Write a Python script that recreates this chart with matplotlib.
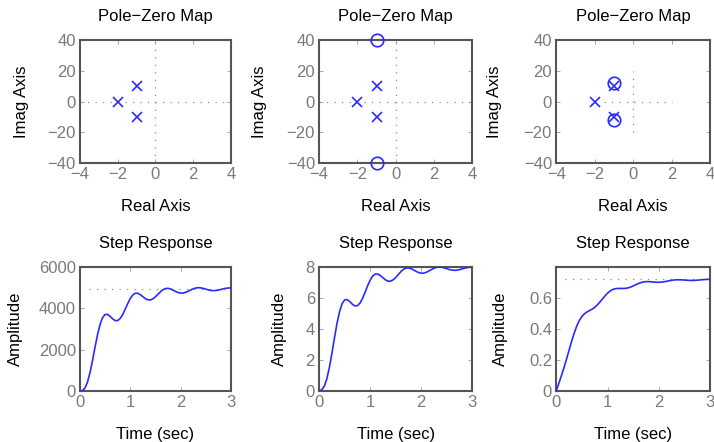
import numpy as np
import matplotlib
matplotlib.use("Agg")
import matplotlib.pyplot as plt

plt.rcParams['font.family'] = ['Liberation Sans', 'DejaVu Sans']

# pole / zero locations (real, imag)
poles_re = [-2, -1, -1]
poles_im = [0, 10, -10]
zeros_re = [[], [-1, -1], [-1, -1]]
zeros_im = [[], [40, -40], [12, -12]]

# step responses, t step 0.05 s
t = [0.00, 0.05, 0.10, 0.15, 0.20, 0.25, 0.30, 0.35, 0.40, 0.45,
     0.50, 0.55, 0.60, 0.65, 0.70, 0.75, 0.80, 0.85, 0.90, 0.95,
     1.00, 1.05, 1.10, 1.15, 1.20, 1.25, 1.30, 1.35, 1.40, 1.45,
     1.50, 1.55, 1.60, 1.65, 1.70, 1.75, 1.80, 1.85, 1.90, 1.95,
     2.00, 2.05, 2.10, 2.15, 2.20, 2.25, 2.30, 2.35, 2.40, 2.45,
     2.50, 2.55, 2.60, 2.65, 2.70, 2.75, 2.80, 2.85, 2.90, 2.95, 3.00]

y1 = [0, 20, 144, 433, 895, 1486, 2130, 2736, 3228, 3555,
      3705, 3705, 3611, 3490, 3406, 3407, 3511, 3708, 3966, 4238,
      4478, 4649, 4731, 4728, 4661, 4562, 4469, 4411, 4407, 4460,
      4560, 4684, 4805, 4903, 4958, 4968, 4938, 4881, 4817, 4765,
      4737, 4741, 4774, 4828, 4890, 4946, 4984, 4999, 4991, 4964,
      4928, 4892, 4867, 4857, 4864, 4886, 4915, 4947, 4971, 4985, 4986]

y2 = [0, 0.077, 0.306, 0.780, 1.508, 2.428, 3.423, 4.359, 5.121, 5.632,
      5.877, 5.895, 5.769, 5.603, 5.490, 5.503, 5.668, 5.974, 6.370, 6.787,
      7.154, 7.416, 7.546, 7.546, 7.451, 7.307, 7.170, 7.088, 7.085, 7.168,
      7.319, 7.508, 7.693, 7.840, 7.926, 7.943, 7.898, 7.814, 7.719, 7.641,
      7.602, 7.608, 7.659, 7.740, 7.834, 7.918, 7.976, 7.999, 7.987, 7.947,
      7.893, 7.840, 7.802, 7.787, 7.799, 7.831, 7.876, 7.923, 7.960, 7.982, 7.983]

y3 = [0, 0.0486, 0.0973, 0.1491, 0.2048, 0.2629, 0.3203, 0.3732, 0.4187, 0.4545,
      0.4805, 0.4981, 0.5098, 0.5189, 0.5282, 0.5400, 0.5552, 0.5736, 0.5936, 0.6136,
      0.6313, 0.6453, 0.6548, 0.6599, 0.6618, 0.6618, 0.6615, 0.6625, 0.6656, 0.6708,
      0.6778, 0.6857, 0.6931, 0.6994, 0.7037, 0.7057, 0.7057, 0.7046, 0.7029, 0.7017,
      0.7014, 0.7024, 0.7047, 0.7078, 0.7112, 0.7142, 0.7165, 0.7176, 0.7177, 0.7169,
      0.7157, 0.7144, 0.7136, 0.7134, 0.7140, 0.7151, 0.7166, 0.7182, 0.7194, 0.7202, 0.7204]

final_values = [4950, 8, 0.72]
steps = [y1, y2, y3]

step_ylims = [(0, 6000), (0, 8), (0, 0.8)]
step_yticks = [[0, 2000, 4000, 6000], [0, 2, 4, 6, 8], [0, 0.2, 0.4, 0.6]]
step_yticklabels = [['0', '2000', '4000', '6000'], ['0', '2', '4', '6', '8'],
                    ['0', '0.2', '0.4', '0.6']]

blue = '#2a2aff'
tick_grey = '#7a7a7a'
frame_grey = '#555555'
dot_grey = '#8a8a8a'

fig = plt.figure(figsize=(7.14, 4.42), dpi=100)

col_left = [0.112, 0.447, 0.779]
col_width = [0.2115, 0.2143, 0.2157]
# ylabel x positions (axes fraction, right edge of rotated text)
pz_ylab_x = [-0.34, -0.34, -0.35]
st_ylab_x = [-0.38, -0.21, -0.31]


def style_axes(ax):
    for sp in ax.spines.values():
        sp.set_color(frame_grey)
        sp.set_linewidth(1.5)
    ax.tick_params(direction='in', length=3, width=0.6, color='#999999',
                   top=True, right=True, labelsize=12, labelcolor=tick_grey,
                   pad=3)


for i in range(3):
    # pole-zero maps
    ax = fig.add_axes([col_left[i], 0.631, col_width[i], 0.278])
    style_axes(ax)
    if i < 2:
        ax.axhline(0, color=dot_grey, ls=(0, (1, 5)), lw=0.9, zorder=1)
        ax.axvline(0, color=dot_grey, ls=(0, (1, 5)), lw=0.9, zorder=1)
    else:
        ax.plot([-1.5, 2], [0, 0], color=dot_grey, ls=(0, (1, 5)), lw=0.9, zorder=1)
        ax.plot([0, 0], [-20, 20], color=dot_grey, ls=(0, (1, 5)), lw=0.9, zorder=1)
    ax.plot(poles_re, poles_im, 'x', color=blue, ms=7, mew=1.2, zorder=3)
    if zeros_re[i]:
        ax.plot(zeros_re[i], zeros_im[i], 'o', mfc='none', mec=blue, ms=9,
                mew=1.2, zorder=3, clip_on=False)
    ax.set_xlim(-4, 4)
    ax.set_ylim(-40, 40)
    ax.set_xticks([-4, -2, 0, 2, 4])
    ax.set_xticklabels(['\u22124', '\u22122', '0', '2', '4'])
    ax.set_yticks([-40, -20, 0, 20, 40])
    ax.set_yticklabels(['\u221240', '\u221220', '0', '20', '40'])
    ax.set_title('Pole\u2212Zero Map', fontsize=12, pad=14)
    ax.set_xlabel('Real Axis', fontsize=12, labelpad=12)
    ax.set_ylabel('Imag Axis', fontsize=12)
    ax.yaxis.set_label_coords(pz_ylab_x[i], 0.5)

    # step responses
    ax = fig.add_axes([col_left[i], 0.1154, col_width[i], 0.2805])
    style_axes(ax)
    ax.plot([0.18, 3], [final_values[i], final_values[i]], color=dot_grey,
            ls=(0, (1, 5)), lw=0.9, zorder=1)
    ax.plot(t, steps[i], color=blue, lw=1.2, zorder=3)
    ax.set_xlim(0, 3)
    ax.set_ylim(*step_ylims[i])
    ax.set_xticks([0, 1, 2, 3])
    ax.set_yticks(step_yticks[i])
    ax.set_yticklabels(step_yticklabels[i])
    ax.set_title('Step Response', fontsize=12, pad=14)
    ax.set_xlabel('Time (sec)', fontsize=12, labelpad=12)
    ax.set_ylabel('Amplitude', fontsize=12)
    ax.yaxis.set_label_coords(st_ylab_x[i], 0.5)

fig.savefig('out.png', dpi=100)
